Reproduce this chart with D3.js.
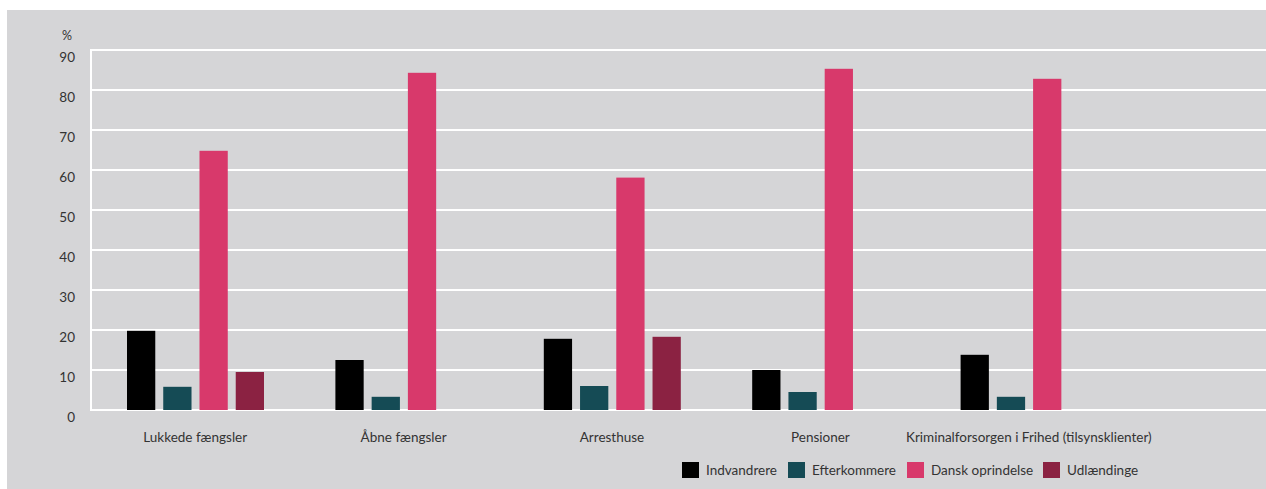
<!DOCTYPE html>
<html><head><meta charset="utf-8">
<script src="https://cdn.jsdelivr.net/npm/d3@7"></script>
<style>
html,body{margin:0;padding:0;background:#fff;}
text{font-family:Lato,"Open Sans",sans-serif;}
</style></head>
<body>
<svg id="chart" width="1266" height="489"></svg>
<script>
const categories = ["Lukkede fængsler","Åbne fængsler","Arresthuse","Pensioner","Kriminalforsorgen i Frihed (tilsynsklienter)"];
const seriesNames = ["Indvandrere","Efterkommere","Dansk oprindelse","Udlændinge"];
const indvandrere = [19.8, 12.5, 17.8, 10.0, 13.8];
const efterkommere = [5.8, 3.3, 6.0, 4.5, 3.3];
const danskOprindelse = [64.8, 84.3, 58.1, 85.3, 82.8];
const udlaendinge = [9.5, 0, 18.3, 0, 0];
const yTicks = [0,10,20,30,40,50,60,70,80,90];
const colors = ["#000000","#154b55","#d8396b","#8b2242"];
const seriesValues = [indvandrere, efterkommere, danskOprindelse, udlaendinge];

const svg = d3.select("#chart");
svg.append("rect").attr("x",7).attr("y",10).attr("width",1259).attr("height",479).attr("fill","#d5d5d7");

const y = d3.scaleLinear().domain([0,90]).range([410,50]);
const x0 = d3.scaleBand().domain(categories).range([91,1133]).paddingInner(0).paddingOuter(0);
const x1 = d3.scaleBand().domain(seriesNames).range([36,173]).paddingInner(0.22);

// gridlines
svg.append("g").selectAll("line").data(yTicks).join("line")
  .attr("x1",91).attr("x2",1266).attr("y1",d=>y(d)).attr("y2",d=>y(d))
  .attr("stroke","#fff").attr("stroke-width",2);
svg.append("line").attr("x1",91).attr("x2",91).attr("y1",y(90)-1).attr("y2",y(0)+1).attr("stroke","#fff").attr("stroke-width",2);

// y labels
svg.append("g").selectAll("text").data(yTicks).join("text")
  .attr("x",75).attr("y",d=>y(d)+12).attr("text-anchor","end")
  .attr("font-size",13.5).attr("fill","#333").text(d=>d);
svg.append("text").attr("x",62).attr("y",40).attr("font-size",12.5).attr("fill","#333").text("%");

// bars
const groups = svg.append("g").selectAll("g").data(categories).join("g")
  .attr("transform",c=>`translate(${x0(c)},0)`);
groups.selectAll("rect").data((c,i)=>seriesNames.map((s,j)=>({s,v:seriesValues[j][i],j})))
  .join("rect")
  .attr("x",d=>x1(d.s)).attr("width",x1.bandwidth())
  .attr("y",d=>y(d.v)).attr("height",d=>y(0)-y(d.v))
  .attr("fill",d=>colors[d.j]);

// category labels
svg.append("g").selectAll("text").data(categories).join("text")
  .attr("x",c=>x0(c)+x0.bandwidth()/2).attr("y",442).attr("text-anchor","middle")
  .attr("font-size",13.5).attr("fill","#333").text(c=>c);

// legend
const legendX = [682,788,907,1043];
const lg = svg.append("g").selectAll("g").data(seriesNames).join("g")
  .attr("transform",(d,i)=>`translate(${legendX[i]},462)`);
lg.append("rect").attr("width",17).attr("height",16).attr("fill",(d,i)=>colors[i]);
lg.append("text").attr("x",24).attr("y",13).attr("font-size",13.5).attr("fill","#333").text(d=>d);
</script>
</body></html>
